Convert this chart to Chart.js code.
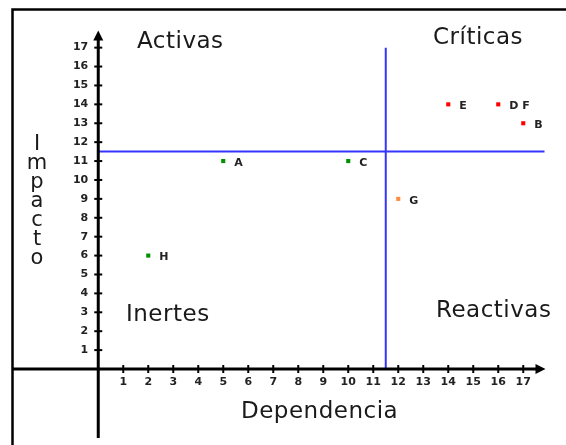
<!DOCTYPE html>
<html>
<head>
<meta charset="utf-8">
<script src="https://cdn.jsdelivr.net/npm/chart.js@4"></script>
<style>
  html, body { margin: 0; padding: 0; background: #fff; }
  #wrap { width: 566px; height: 445px; position: relative; }
</style>
</head>
<body>
<div id="wrap"><canvas id="chart"></canvas></div>
<script>
// variables (dependencia = x, impacto = y)
const names = ['A', 'B', 'C', 'D F', 'E', 'G', 'H'];
const dependencia = [5, 17, 10, 16, 14, 12, 2];
const impacto = [11, 13, 11, 14, 14, 9, 6];
const colors = ['#009000', '#ff0000', '#009000', '#ff0000', '#ff0000', '#ff8c40', '#009000'];

const xTicks = [1, 2, 3, 4, 5, 6, 7, 8, 9, 10, 11, 12, 13, 14, 15, 16, 17];
const yTicks = [1, 2, 3, 4, 5, 6, 7, 8, 9, 10, 11, 12, 13, 14, 15, 16, 17];

// quadrant dividers
const divX = 11.5;
const divY = 11.5;
const axisEnd = 17.85;

const points = dependencia.map((d, i) => ({ x: d, y: impacto[i] }));

// axes, ticks, titles and point labels
const drawPlugin = {
    id: 'drawAxes',
    afterDatasetsDraw(chart) {
        const ctx = chart.ctx;
        const xs = chart.scales.x;
        const ys = chart.scales.y;
        const x0 = xs.getPixelForValue(0);
        const y0 = ys.getPixelForValue(0);
        ctx.save();

        // frame (top + left)
        ctx.strokeStyle = '#000';
        ctx.lineWidth = 2.5;
        ctx.beginPath();
        ctx.moveTo(12.5, 445);
        ctx.lineTo(12.5, 9.5);
        ctx.lineTo(566, 9.5);
        ctx.stroke();

        // axes
        ctx.lineWidth = 3;
        ctx.beginPath();
        ctx.moveTo(12, y0);
        ctx.lineTo(xs.getPixelForValue(axisEnd) - 6, y0);
        ctx.moveTo(x0, 438);
        ctx.lineTo(x0, ys.getPixelForValue(axisEnd) + 6);
        ctx.stroke();

        // arrow heads
        const ax = xs.getPixelForValue(axisEnd);
        const ay = ys.getPixelForValue(axisEnd);
        ctx.fillStyle = '#000';
        ctx.beginPath();
        ctx.moveTo(ax + 1, y0);
        ctx.lineTo(ax - 9, y0 - 5);
        ctx.lineTo(ax - 9, y0 + 5);
        ctx.closePath();
        ctx.fill();
        ctx.beginPath();
        ctx.moveTo(x0, ay - 1);
        ctx.lineTo(x0 - 5, ay + 9);
        ctx.lineTo(x0 + 5, ay + 9);
        ctx.closePath();
        ctx.fill();

        // ticks
        ctx.lineWidth = 2;
        ctx.font = 'bold 11px "DejaVu Sans"';
        ctx.fillStyle = '#222';
        ctx.textBaseline = 'middle';
        ctx.textAlign = 'center';
        xTicks.forEach(v => {
            const px = xs.getPixelForValue(v);
            ctx.beginPath();
            ctx.moveTo(px, y0 - 4);
            ctx.lineTo(px, y0 + 4);
            ctx.stroke();
            ctx.fillText(String(v), px, y0 + 13);
        });
        ctx.textAlign = 'right';
        yTicks.forEach(v => {
            const py = ys.getPixelForValue(v);
            ctx.beginPath();
            ctx.moveTo(x0 - 4, py);
            ctx.lineTo(x0 + 4, py);
            ctx.stroke();
            ctx.fillText(String(v), x0 - 10, py);
        });

        // point labels
        ctx.textAlign = 'left';
        names.forEach((n, i) => {
            const px = xs.getPixelForValue(dependencia[i]);
            const py = ys.getPixelForValue(impacto[i]);
            ctx.fillText(n, px + 11, py + 2);
        });

        // quadrant names and axis titles
        ctx.fillStyle = '#1a1a1a';
        ctx.font = '23px "DejaVu Sans"';
        ctx.letterSpacing = '0.5px';
        ctx.textBaseline = 'alphabetic';
        ctx.textAlign = 'left';
        ctx.fillText('Activas', 137, 48);
        ctx.fillText('Críticas', 433, 44);
        ctx.fillText('Inertes', 126, 321);
        ctx.fillText('Reactivas', 436, 317);
        ctx.fillText('Dependencia', 241, 418);

        ctx.letterSpacing = '0px';
        ctx.textAlign = 'center';
        ctx.font = '21px "DejaVu Sans"';
        'Impacto'.split('').forEach((ch, i) => {
            ctx.fillText(ch, 37, 150 + i * 19);
        });
        ctx.restore();
    }
};

window.addEventListener('load', function () {
    const ctx = document.getElementById('chart');
    new Chart(ctx, {
        type: 'scatter',
        data: {
            datasets: [{
                type: 'line',
                data: [{ x: 0, y: divY }, { x: axisEnd, y: divY }],
                borderColor: '#3535ff',
                borderWidth: 2,
                pointRadius: 0,
                fill: false
            }, {
                type: 'line',
                data: [{ x: divX, y: 0 }, { x: divX, y: 17 }],
                borderColor: '#3535ff',
                borderWidth: 2,
                pointRadius: 0,
                fill: false
            }, {
                data: points,
                backgroundColor: colors,
                borderWidth: 0,
                pointStyle: 'rect',
                pointRadius: 2.9
            }]
        },
        options: {
            responsive: true,
            maintainAspectRatio: false,
            animation: false,
            layout: { padding: 0, autoPadding: false },
            plugins: {
                legend: { display: false },
                tooltip: { enabled: false }
            },
            scales: {
                x: { type: 'linear', min: -3.93, max: 18.71, display: false },
                y: { type: 'linear', min: -4.02, max: 19.52, display: false }
            }
        },
        plugins: [drawPlugin]
    });
});
</script>
</body>
</html>
